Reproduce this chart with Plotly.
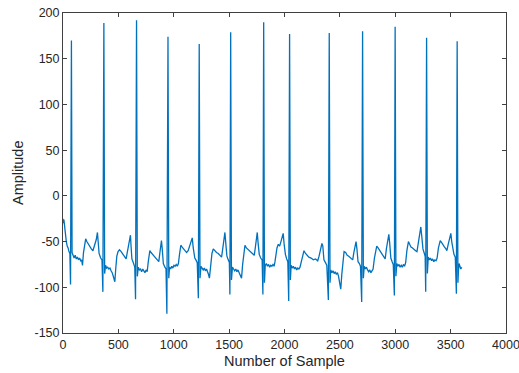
import plotly.graph_objects as go

# ECG trace: (sample index, amplitude) breakpoints
sample_index = [
    0, 4, 8, 12, 18, 24, 30, 38, 46, 54, 62, 68, 76,
    82, 90, 100, 110, 120, 130, 140, 150, 160, 168, 176, 185, 195, 205, 215, 228, 242, 256, 270, 285, 300, 311, 318, 326, 340, 352, 360, 369,
    376, 384, 394, 404, 414, 424, 434, 444, 454, 462, 468, 476, 486, 497, 510, 525, 540, 555, 570, 580, 590, 600, 609, 615, 622, 632, 642, 648, 655, 664,
    671, 680, 690, 700, 710, 720, 730, 740, 750, 760, 770, 784, 795, 810, 829, 845, 865, 875, 882, 889, 896, 906, 920, 930, 938, 948,
    955, 962, 972, 982, 992, 1002, 1012, 1022, 1032, 1042, 1052, 1064, 1076, 1090, 1102, 1116, 1130, 1145, 1158, 1167, 1176, 1190, 1200, 1212, 1222, 1230,
    1237, 1246, 1256, 1266, 1276, 1286, 1296, 1306, 1314, 1322, 1332, 1345, 1357, 1370, 1386, 1402, 1418, 1432, 1442, 1452, 1462, 1470, 1480, 1492, 1502, 1507, 1514,
    1521, 1530, 1540, 1550, 1560, 1570, 1580, 1590, 1600, 1612, 1622, 1633, 1643, 1656, 1672, 1688, 1705, 1727, 1736, 1745, 1754, 1762, 1772, 1785, 1798, 1805, 1812,
    1819, 1826, 1836, 1846, 1856, 1866, 1876, 1886, 1896, 1906, 1914, 1922, 1932, 1944, 1956, 1968, 1980, 1988, 1996, 2008, 2020, 2030, 2038, 2046,
    2053, 2060, 2070, 2080, 2090, 2100, 2110, 2120, 2130, 2140, 2152, 2164, 2176, 2190, 2205, 2220, 2240, 2260, 2280, 2300, 2312, 2325, 2338, 2346, 2356, 2370, 2382, 2396, 2404,
    2411, 2418, 2428, 2438, 2448, 2458, 2468, 2478, 2488, 2498, 2508, 2518, 2528, 2538, 2552, 2566, 2580, 2598, 2616, 2626, 2636, 2646, 2654, 2664, 2676, 2686, 2697, 2705,
    2712, 2720, 2730, 2740, 2750, 2760, 2770, 2780, 2790, 2800, 2812, 2822, 2833, 2845, 2860, 2875, 2892, 2909, 2920, 2932, 2942, 2950, 2960, 2972, 2982, 2992, 2999,
    3006, 3014, 3024, 3034, 3044, 3054, 3064, 3074, 3084, 3094, 3105, 3119, 3130, 3142, 3156, 3170, 3184, 3196, 3206, 3218, 3231, 3240, 3250, 3260, 3270, 3275, 3283,
    3290, 3298, 3308, 3318, 3328, 3338, 3348, 3358, 3368, 3378, 3390, 3406, 3418, 3430, 3445, 3458, 3466, 3478, 3490, 3502, 3510, 3520, 3530, 3542, 3552, 3559,
    3566, 3571, 3576, 3584, 3592, 3600,
]
amplitude = [
    -25, -30, -26, -32, -36, -45, -50, -55, -57, -61, -63, -97, 170,
    -62, -66, -68, -65, -69, -67, -70, -68, -71, -70, -76, -62, -52, -47, -50, -53, -55, -58, -60, -55, -48, -40, -50, -63, -68, -70, -105, 189,
    -85, -76, -79, -78, -80, -79, -82, -84, -88, -91, -94, -80, -66, -61, -59, -61, -64, -66, -69, -62, -55, -49, -43, -56, -69, -72, -76, -78, -113, 192,
    -88, -78, -81, -80, -83, -80, -82, -84, -81, -83, -72, -60, -62, -64, -66, -69, -72, -62, -55, -49, -58, -74, -78, -80, -129, 174,
    -90, -78, -80, -77, -79, -76, -77, -75, -77, -74, -64, -54, -56, -58, -60, -62, -60, -55, -50, -46, -57, -68, -70, -73, -112, 166,
    -90, -77, -79, -81, -79, -82, -80, -83, -86, -90, -78, -63, -58, -60, -62, -63, -65, -67, -58, -49, -40, -52, -66, -70, -73, -108, 179,
    -92, -78, -80, -82, -80, -83, -81, -84, -86, -90, -75, -60, -54, -57, -59, -61, -63, -65, -57, -48, -40, -52, -64, -68, -70, -108, 190,
    -95, -76, -74, -77, -75, -78, -76, -77, -75, -77, -72, -62, -57, -53, -55, -50, -46, -41, -52, -64, -69, -72, -115, 177,
    -92, -76, -79, -77, -80, -78, -81, -79, -80, -78, -72, -64, -60, -63, -65, -67, -68, -70, -69, -71, -66, -58, -52, -55, -70, -73, -76, -114, 178,
    -95, -81, -84, -82, -85, -83, -86, -84, -88, -95, -102, -85, -68, -61, -62, -65, -66, -68, -70, -62, -55, -50, -58, -72, -74, -77, -116, 180,
    -90, -77, -80, -78, -81, -83, -81, -84, -82, -80, -68, -60, -55, -57, -60, -62, -66, -69, -58, -48, -42, -52, -68, -72, -75, -109, 185,
    -88, -74, -77, -75, -78, -76, -78, -75, -77, -73, -60, -50, -53, -56, -57, -59, -60, -61, -52, -42, -34, -45, -58, -62, -66, -105, 173,
    -85, -67, -70, -68, -71, -69, -72, -70, -71, -68, -57, -49, -51, -54, -56, -58, -60, -53, -46, -41, -50, -60, -64, -67, -107, 169,
    -95, -81, -74, -77, -80, -78,
]

x_ticks = [0, 500, 1000, 1500, 2000, 2500, 3000, 3500, 4000]
y_ticks = [-150, -100, -50, 0, 50, 100, 150, 200]
x_label = "Number of Sample"
y_label = "Amplitude"

axis_color = "#404040"
text_color = "#262626"
font_family = "Liberation Sans, Arial, sans-serif"

fig = go.Figure(go.Scatter(
    x=sample_index, y=amplitude, mode="lines",
    line=dict(color="#0072BD", width=1.3),
    showlegend=False, hoverinfo="skip",
))

common = dict(
    showline=True, linecolor=axis_color, linewidth=1, mirror="ticks",
    ticks="inside", ticklen=4, tickcolor=axis_color, tickwidth=1,
    showgrid=False, zeroline=False, automargin=False, ticklabeloverflow="allow",
    tickfont=dict(family=font_family, size=12.5, color=text_color),
)

fig.update_xaxes(range=[0, 4000], tickvals=x_ticks, ticktext=[str(v) for v in x_ticks], **common)
fig.update_yaxes(range=[-150, 200], tickvals=y_ticks, ticktext=[str(v) for v in y_ticks], **common)

fig.add_annotation(
    text=x_label, xref="paper", yref="paper", x=0.5, y=0, yshift=-28,
    xanchor="center", yanchor="middle", showarrow=False,
    font=dict(family=font_family, size=14.5, color=text_color),
)
fig.add_annotation(
    text=y_label, xref="paper", yref="paper", x=0, y=0.5, xshift=-45,
    xanchor="center", yanchor="middle", showarrow=False, textangle=-90,
    font=dict(family=font_family, size=14.5, color=text_color),
)

fig.update_layout(
    width=519, height=373,
    margin=dict(l=63, r=13, t=13, b=40),
    paper_bgcolor="white", plot_bgcolor="white",
)

# remove the page's default body margin so the figure fills the window exactly
fig.write_html(
    "out.html",
    config={"displayModeBar": False, "staticPlot": True},
    post_script="document.body.style.margin='0';document.body.style.overflow='hidden';",
)
